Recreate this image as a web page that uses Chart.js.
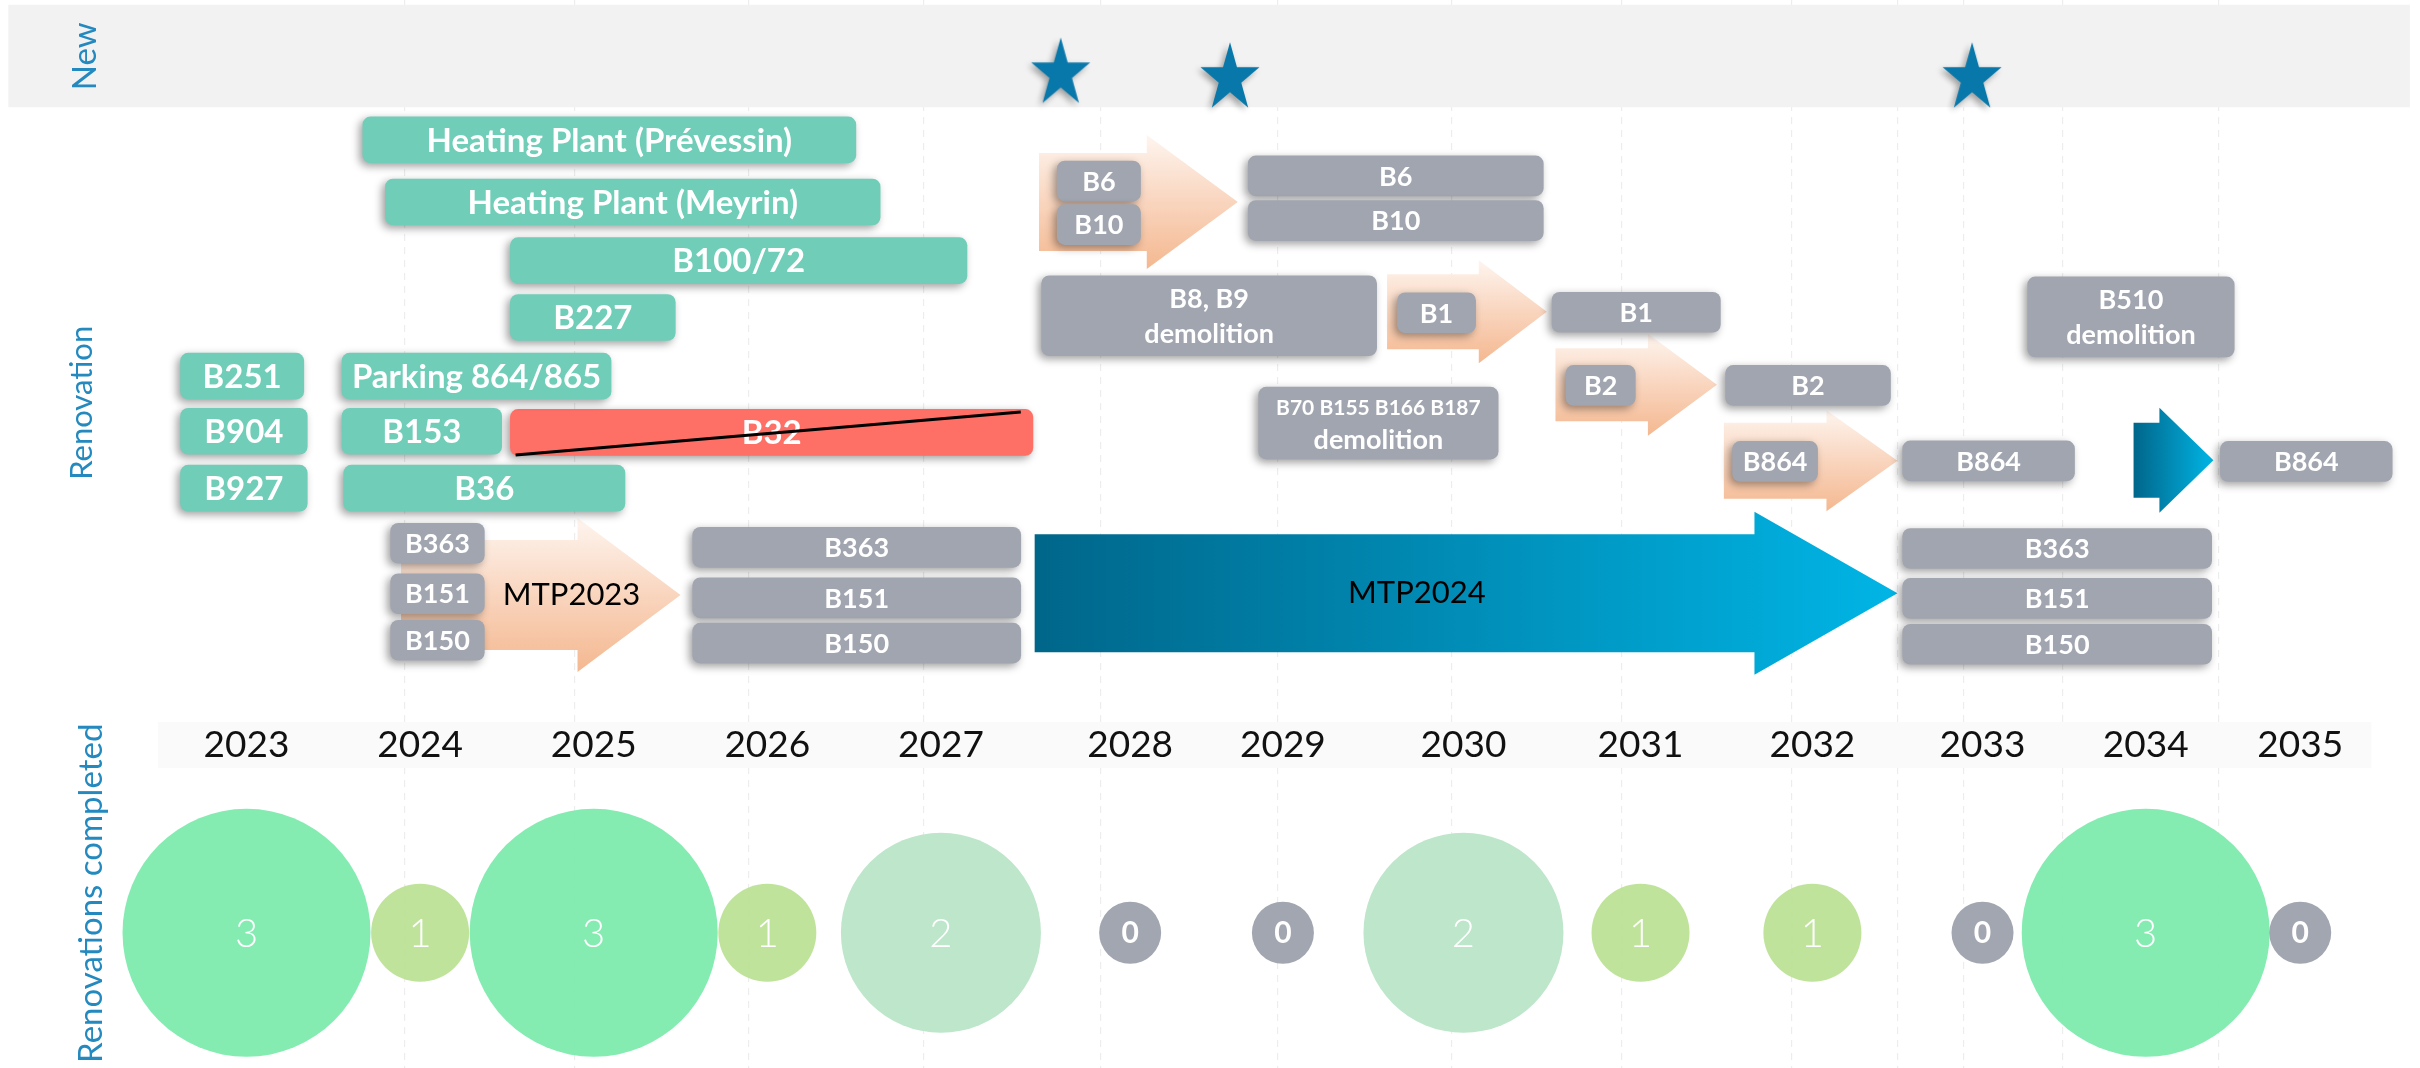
<!DOCTYPE html>
<html>
<head>
<meta charset="utf-8">
<script src="https://cdn.jsdelivr.net/npm/chart.js@4.4.0/dist/chart.umd.min.js"></script>
<style>
html, body { margin: 0; padding: 0; background: #fff; overflow: hidden; }
#wrap { width: 2420px; height: 1068px; }
</style>
</head>
<body>
<div id="wrap"><canvas id="timeline"></canvas></div>
<script>
// ---- timeline data (x in years, y in lanes) ----
var yearLabels = ['2023', '2024', '2025', '2026', '2027', '2028', '2029', '2030', '2031', '2032', '2033', '2034', '2035'];
var yearPos    = [2023, 2024, 2025, 2026, 2027, 2028.09, 2028.97, 2030.01, 2031.03, 2032.02, 2033, 2033.94, 2034.83];
var completed  = [3, 1, 3, 1, 2, 0, 0, 2, 1, 1, 0, 3, 0];

// new buildings
var newYear = [2027.69, 2028.665, 2032.94];
var newRow  = [0.81, 0.89, 0.89];

// renovations (teal)
var tealNames = ['Heating Plant (Prévessin)', 'Heating Plant (Meyrin)', 'B100/72', 'B227', 'B251', 'Parking 864/865', 'B904', 'B153', 'B927', 'B36'];
var tealStart = [2023.67, 2023.80, 2024.52, 2024.52, 2022.62, 2023.55, 2022.62, 2023.55, 2022.62, 2023.56];
var tealEnd   = [2026.51, 2026.65, 2027.15, 2025.47, 2023.33, 2025.10, 2023.35, 2024.47, 2023.35, 2025.18];
var tealRow   = [2.01, 3.08, 4.09, 5.07, 6.08, 6.08, 7.03, 7.03, 8.01, 8.01];

// cancelled
var cancelNames = ['B32'];
var cancelStart = [2024.52];
var cancelEnd   = [2027.53];
var cancelRow   = [7.05];
var strikeYear  = [2024.55, 2027.46];
var strikeRow   = [7.44, 6.70];

// planned (grey)
var grayNames = ['B363', 'B151', 'B150', 'B363', 'B151', 'B150', 'B6', 'B10', 'B6', 'B10', 'B1', 'B1', 'B2', 'B2', 'B864', 'B864', 'B864', 'B363', 'B151', 'B150'];
var grayStart = [2023.83, 2023.83, 2023.83, 2025.57, 2025.57, 2025.57, 2027.67, 2027.67, 2028.77, 2028.77, 2029.63, 2030.52, 2030.60, 2031.52, 2031.56, 2032.54, 2034.37, 2032.54, 2032.54, 2032.54];
var grayEnd   = [2024.37, 2024.37, 2024.37, 2027.46, 2027.46, 2027.46, 2028.15, 2028.15, 2030.47, 2030.47, 2030.08, 2031.49, 2031.00, 2032.47, 2032.05, 2033.53, 2035.36, 2034.32, 2034.32, 2034.32];
var grayRow   = [8.96, 9.83, 10.63, 9.03, 9.90, 10.68, 2.72, 3.47, 2.63, 3.40, 4.99, 4.98, 6.24, 6.24, 7.55, 7.54, 7.55, 9.05, 9.91, 10.70];

// demolitions
var demoNames = [['B8, B9', 'demolition'], ['B510', 'demolition']];
var demoStart = [2027.58, 2033.26];
var demoEnd   = [2029.51, 2034.45];
var demoRow   = [5.04, 5.06];
var demo2Names = [['B70 B155 B166 B187', 'demolition']];
var demo2Start = [2028.83];
var demo2End   = [2030.21];
var demo2Row   = [6.89];

// transition arrows
var arrowNames = ['MTP2023', '', '', '', '', '', 'MTP2024'];
var arrowStart = [2023.89, 2027.565, 2029.57, 2030.54, 2031.51, 2033.87, 2027.54];
var arrowTip   = [2025.50, 2028.71, 2030.49, 2031.47, 2032.51, 2034.33, 2032.51];
var arrowRow   = [9.85, 3.08, 4.97, 6.23, 7.54, 7.53, 9.82];

var gridPos = [2023.91, 2024.89, 2025.89, 2026.90, 2027.92, 2028.94, 2029.94, 2030.92, 2031.90, 2032.51, 2032.89, 2033.46, 2034.36];

// ---- styles ----
var FONT = 'Lato, "Open Sans", sans-serif';
var arrowStyle = [
    {kind: 'orange', body: 110, head: 154, headLen: 103, labelAt: 0.61},
    {kind: 'orange', body: 98,  head: 134, headLen: 91},
    {kind: 'orange', body: 75,  head: 103, headLen: 68},
    {kind: 'orange', body: 73,  head: 102, headLen: 69},
    {kind: 'orange', body: 76,  head: 101, headLen: 71},
    {kind: 'blue',   body: 75,  head: 105, headLen: 54},
    {kind: 'blue',   body: 118, head: 163, headLen: 143, labelAt: 0.443}
];
var bubbleRadius = {0: 31, 1: 49, 2: 100, 3: 124};
var bubbleColor  = {0: '#a2a6b0', 1: 'rgba(186,225,146,0.92)', 2: '#bde6ca', 3: 'rgba(124,234,172,0.94)'};
var bubbleRow = 15.67;
var yearRow = 12.44;

function makeStar() {
    var c = document.createElement('canvas');
    c.width = 80; c.height = 84;
    var g = c.getContext('2d');
    g.shadowColor = 'rgba(0,0,0,0.35)';
    g.shadowBlur = 6;
    g.shadowOffsetX = -3;
    g.shadowOffsetY = 3;
    g.fillStyle = '#0878aa';
    var R = 31, r = 31 * 0.382, sy = 1.17, cx = 40, cy = 42 + 0.0955 * R * sy;
    g.beginPath();
    for (var k = 0; k < 10; k++) {
        var a = -Math.PI / 2 + k * Math.PI / 5;
        var rr = k % 2 ? r : R;
        g.lineTo(cx + rr * Math.cos(a), cy + rr * Math.sin(a) * sy);
    }
    g.closePath();
    g.fill();
    return c;
}

function zip(start, end, row) {
    return start.map(function (s, i) { return {x: [s, end[i]], y: row[i]}; });
}

function boxSet(names, start, end, row, color, thick, order, fonts, lh) {
    return {
        type: 'bar',
        names: names,
        fonts: fonts,
        lineH: lh || 0,
        shadow: true,
        data: zip(start, end, row),
        backgroundColor: color,
        barThickness: thick,
        grouped: false,
        borderSkipped: false,
        borderRadius: 8,
        clip: false,
        order: order
    };
}

function drawLines(ctx, lines, x, y, fonts, lh, color) {
    if (!Array.isArray(lines)) lines = [lines];
    ctx.save();
    ctx.fillStyle = color;
    ctx.textAlign = 'center';
    ctx.textBaseline = 'middle';
    var n = lines.length;
    for (var i = 0; i < n; i++) {
        ctx.font = fonts[Math.min(i, fonts.length - 1)];
        ctx.fillText(lines[i], x, y + (i - (n - 1) / 2) * lh);
    }
    ctx.restore();
}

var boxPlugin = {
    id: 'boxes',
    beforeDatasetDraw: function (chart, args) {
        var ctx = chart.ctx;
        var ds = chart.data.datasets[args.index];
        ctx.save();
        if (ds.shadow) {
            ctx.shadowColor = 'rgba(0,0,0,0.38)';
            ctx.shadowBlur = 9;
            ctx.shadowOffsetX = -3;
            ctx.shadowOffsetY = 3;
        }
    },
    afterDatasetDraw: function (chart, args) {
        var ctx = chart.ctx;
        ctx.restore();
        var ds = chart.data.datasets[args.index];
        if (!ds.names) return;
        args.meta.data.forEach(function (el, i) {
            var cx = (el.x + el.base) / 2;
            drawLines(ctx, ds.names[i], cx, el.y + 1, ds.fonts, ds.lineH, '#fff');
        });
    }
};

var arrowPlugin = {
    id: 'arrows',
    beforeDatasetsDraw: function (chart) {
        var ctx = chart.ctx, xs = chart.scales.x, ys = chart.scales.y;
        // year strip
        ctx.save();
        ctx.fillStyle = '#fafafa';
        var yx0 = xs.getPixelForValue(2022.49), yx1 = xs.getPixelForValue(2035.24);
        var yy0 = ys.getPixelForValue(12.04), yy1 = ys.getPixelForValue(12.83);
        ctx.fillRect(yx0, yy0, yx1 - yx0, yy1 - yy0);
        ctx.restore();

        for (var i = 0; i < arrowStart.length; i++) {
            var st = arrowStyle[i];
            var x0 = xs.getPixelForValue(arrowStart[i]);
            var xt = xs.getPixelForValue(arrowTip[i]);
            var yc = ys.getPixelForValue(arrowRow[i]);
            var xh = xt - st.headLen;
            var grad;
            if (st.kind === 'orange') {
                grad = ctx.createLinearGradient(0, yc - st.head / 2, 0, yc + st.head / 2);
                grad.addColorStop(0, '#fef5ef');
                grad.addColorStop(0.5, '#f9d5be');
                grad.addColorStop(1, '#f4b890');
            } else {
                grad = ctx.createLinearGradient(x0, 0, xt, 0);
                grad.addColorStop(0, '#00668a');
                grad.addColorStop(1, '#00b5e5');
            }
            ctx.save();
            ctx.fillStyle = grad;
            ctx.beginPath();
            ctx.moveTo(x0, yc - st.body / 2);
            ctx.lineTo(xh, yc - st.body / 2);
            ctx.lineTo(xh, yc - st.head / 2);
            ctx.lineTo(xt, yc);
            ctx.lineTo(xh, yc + st.head / 2);
            ctx.lineTo(xh, yc + st.body / 2);
            ctx.lineTo(x0, yc + st.body / 2);
            ctx.closePath();
            ctx.fill();
            ctx.restore();
        }
    },
    afterDatasetsDraw: function (chart) {
        var ctx = chart.ctx, xs = chart.scales.x, ys = chart.scales.y;
        var i;
        // arrow captions
        for (i = 0; i < arrowNames.length; i++) {
            if (!arrowNames[i]) continue;
            var lx = arrowStart[i] + (arrowTip[i] - arrowStart[i]) * arrowStyle[i].labelAt;
            drawLines(ctx, arrowNames[i], xs.getPixelForValue(lx), ys.getPixelForValue(arrowRow[i]), ['31px ' + FONT], 0, '#000');
        }
        // year labels
        for (i = 0; i < yearLabels.length; i++) {
            drawLines(ctx, yearLabels[i], xs.getPixelForValue(yearPos[i]), ys.getPixelForValue(yearRow), ['37px ' + FONT], 0, '#111');
        }
        // completed counts
        var bm = chart.getDatasetMeta(chart.data.datasets.length - 2);
        bm.data.forEach(function (el, j) {
            var v = completed[j];
            var f = v === 0 ? 'bold 30px ' + FONT : '300 40px ' + FONT;
            drawLines(ctx, String(v), el.x, el.y + 1, [f], 0, '#fff');
        });
        // side titles
        var side = [['New', 0.57, 85, 33], ['Renovation', 6.54, 82, 31], ['Renovations completed', 14.99, 91, 33]];
        side.forEach(function (s) {
            ctx.save();
            ctx.translate(chart.chartArea.left + s[2], ys.getPixelForValue(s[1]));
            ctx.rotate(-Math.PI / 2);
            ctx.font = s[3] + 'px ' + FONT;
            ctx.fillStyle = '#2389bf';
            ctx.textAlign = 'center';
            ctx.textBaseline = 'middle';
            ctx.fillText(s[0], 0, 0);
            ctx.restore();
        });
    }
};

var datasets = [
    {
        type: 'bar',
        data: [{x: [2021.63, 2035.46], y: 0.565}],
        backgroundColor: '#f2f2f2',
        barThickness: 102,
        grouped: false,
        borderSkipped: false,
        order: 9
    },
    boxSet(cancelNames, cancelStart, cancelEnd, cancelRow, '#fe6f66', 46, 6, ['bold 33px ' + FONT]),
    boxSet(tealNames, tealStart, tealEnd, tealRow, '#70cdb8', 46, 5, ['bold 33px ' + FONT]),
    boxSet(grayNames, grayStart, grayEnd, grayRow, '#a1a5af', 40, 4, ['bold 27px ' + FONT]),
    boxSet(demoNames, demoStart, demoEnd, demoRow, '#a1a5af', 80, 4, ['bold 27px ' + FONT], 35),
    boxSet(demo2Names, demo2Start, demo2End, demo2Row, '#a1a5af', 72, 4, ['bold 21px ' + FONT, 'bold 27px ' + FONT], 32),
    {
        type: 'line',
        data: strikeYear.map(function (v, i) { return {x: v, y: strikeRow[i]}; }),
        borderColor: '#000',
        borderWidth: 3,
        pointRadius: 0,
        showLine: true,
        order: 2
    },
    {
        type: 'bubble',
        data: yearPos.map(function (v) { return {x: v, y: bubbleRow}; }),
        radius: function (c) { return bubbleRadius[completed[c.dataIndex]]; },
        backgroundColor: function (c) { return bubbleColor[completed[c.dataIndex]]; },
        borderWidth: 0,
        clip: false,
        order: 3
    },
    {
        type: 'scatter',
        data: newYear.map(function (v, i) { return {x: v, y: newRow[i]}; }),
        pointStyle: makeStar(),
        pointRadius: 20,
        clip: false,
        order: 2
    }
];

new Chart(document.getElementById('timeline'), {
    type: 'bar',
    data: {datasets: datasets},
    options: {
        indexAxis: 'y',
        responsive: true,
        maintainAspectRatio: false,
        animation: false,
        events: [],
        layout: {padding: 0, autoPadding: false},
        plugins: {legend: {display: false}, tooltip: {enabled: false}},
        scales: {
            x: {
                type: 'linear',
                min: 2021.58,
                max: 2035.52,
                offset: false,
                afterBuildTicks: function (s) {
                    s.ticks = gridPos.map(function (v) { return {value: v}; });
                },
                ticks: {display: false},
                grid: {color: '#ededed', lineWidth: 1.2, drawTicks: false, offset: false},
                border: {display: false, dash: [7, 6]}
            },
            y: {
                type: 'linear',
                min: -0.4,
                max: 18,
                reverse: true,
                offset: false,
                display: false,
                grid: {offset: false}
            }
        }
    },
    plugins: [boxPlugin, arrowPlugin]
});
</script>
</body>
</html>
